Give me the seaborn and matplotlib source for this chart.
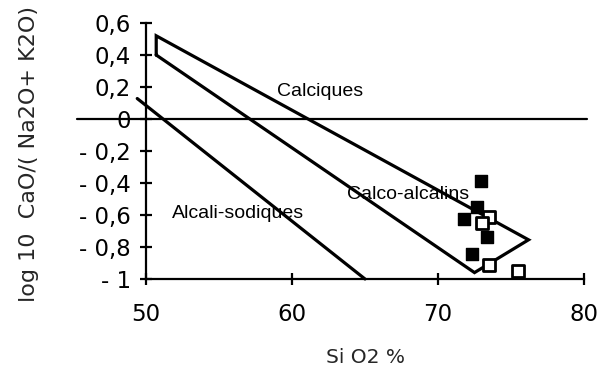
import matplotlib
matplotlib.use("Agg")
import matplotlib.pyplot as plt
import seaborn as sns
import pandas as pd

# ---- data ----
filled_sio2 = [72.92, 72.69, 71.78, 73.34, 72.31]
filled_ratio = [-0.39, -0.55, -0.625, -0.74, -0.845]
open_sio2 = [73.51, 72.99, 73.51, 75.50]
open_ratio = [-0.615, -0.65, -0.91, -0.95]

# field boundaries
calc_x = [50.7, 50.7, 76.2, 72.5, 50.7]
calc_y = [0.40, 0.52, -0.755, -0.96, 0.40]
alc_x = [49.4, 65.0]
alc_y = [0.128, -1.0]
zero_x = [45.3, 80.2]
zero_y = [0.0, 0.0]

field_labels = ["Calciques", "Calco-alcalins", "Alcali-sodiques"]
label_x = [59.0, 63.8, 51.8]
label_y = [0.17, -0.47, -0.59]

xticks = [50, 60, 70, 80]
xtick_labels = ["50", "60", "70", "80"]
yticks = [0.6, 0.4, 0.2, 0.0, -0.2, -0.4, -0.6, -0.8, -1.0]
ytick_labels = ["0,6", "0,4", "0,2", "0", "- 0,2", "- 0,4", "- 0,6", "- 0,8", "- 1"]

sns.set_style("ticks")
plt.rcParams["font.family"] = ["DejaVu Sans"]

fig = plt.figure(figsize=(6.12, 3.70), dpi=100)
ax = fig.add_axes([146 / 612, 1 - 279 / 370, (584 - 146) / 612, (279 - 23) / 370])

lw = 2.3
sns.lineplot(x=calc_x, y=calc_y, sort=False, estimator=None, color="black", lw=lw, ax=ax)
sns.lineplot(x=alc_x, y=alc_y, sort=False, estimator=None, color="black", lw=lw, ax=ax)
sns.lineplot(x=zero_x, y=zero_y, sort=False, estimator=None, color="black", lw=1.6, ax=ax)
for ln in ax.get_lines():
    ln.set_clip_on(False)
    ln.set_solid_joinstyle("miter")

df_f = pd.DataFrame({"SiO2": filled_sio2, "r": filled_ratio})
df_o = pd.DataFrame({"SiO2": open_sio2, "r": open_ratio})
sns.scatterplot(data=df_f, x="SiO2", y="r", marker="s", s=80, color="black",
                edgecolor="black", linewidth=1.0, ax=ax, zorder=4, clip_on=False)
sns.scatterplot(data=df_o, x="SiO2", y="r", marker="s", s=65, facecolor="white",
                edgecolor="black", linewidth=2.0, ax=ax, zorder=5, clip_on=False)

for t, x, y in zip(field_labels, label_x, label_y):
    ax.text(x, y, t, fontsize=14, family=["Liberation Sans", "DejaVu Sans"],
            ha="left", va="center", color="black", zorder=6)

ax.set_xlim(50, 80)
ax.set_ylim(-1, 0.6)
ax.set_xticks(xticks)
ax.set_xticklabels(xtick_labels)
ax.set_yticks(yticks)
ax.set_yticklabels(ytick_labels)

for s in ["top", "right"]:
    ax.spines[s].set_visible(False)
for s in ["left", "bottom"]:
    ax.spines[s].set_linewidth(1.6)
    ax.spines[s].set_color("black")

ax.tick_params(axis="both", direction="inout", length=8, width=1.6, colors="black",
               labelsize=16.5)
ax.tick_params(axis="x", pad=13)
ax.tick_params(axis="y", pad=7)

ax.set_xlabel("Si O2 %", fontsize=14.5)
ax.set_ylabel("log 10  CaO/( Na2O+ K2O)", fontsize=16)
ax.xaxis.set_label_coords(0.5, -0.27)
ax.yaxis.set_label_coords(-0.245, 0.49)

fig.savefig("out.png", dpi=100)
